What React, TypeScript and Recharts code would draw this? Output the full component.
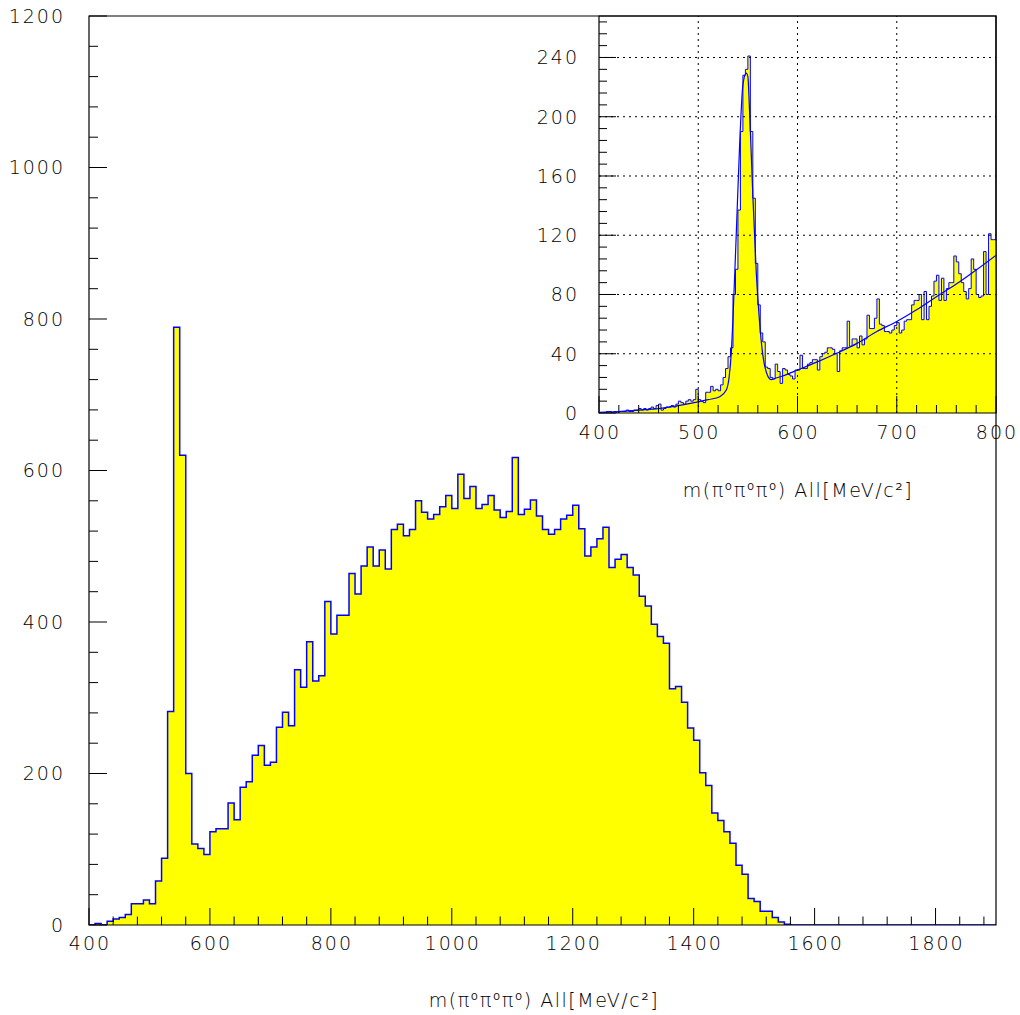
import React from 'react';
import { ComposedChart, Area, Line, XAxis, YAxis, ReferenceLine, ReferenceArea } from 'recharts';

// ---------- main histogram: m(pi0 pi0 pi0), 10 MeV bins from 400 to 1900 ----------
const MAIN_START = 400;
const MAIN_BIN = 10;
const mainCounts = [
  0, 2, 0, 5, 8, 10, 14, 28, 28, 33,
  28, 58, 88, 282, 789, 620, 200, 107, 101, 93,
  123, 127, 127, 161, 139, 182, 189, 224, 237, 211,
  215, 261, 281, 263, 337, 314, 374, 322, 329, 427,
  384, 409, 409, 464, 437, 474, 499, 474, 495, 470,
  522, 529, 514, 522, 560, 545, 536, 542, 552, 567,
  550, 595, 563, 579, 550, 555, 567, 548, 538, 546,
  617, 542, 549, 561, 540, 522, 516, 522, 536, 541,
  554, 523, 487, 499, 510, 525, 472, 483, 489, 472,
  462, 434, 421, 397, 381, 372, 312, 315, 294, 260,
  244, 201, 184, 148, 138, 123, 108, 79, 67, 35,
  31, 18, 18, 10, 4, 1, 0, 0, 0, 0,
  0, 0, 0, 0, 0, 0, 0, 0, 0, 0,
  0, 0, 0, 0, 0, 0, 0, 0, 0, 0,
  0, 0, 0, 0, 0, 0, 0, 0, 0, 0,
];

// ---------- inset histogram: 2.5 MeV bins from 400 to 800 ----------
const INSET_START = 400;
const INSET_BIN = 2.5;
const insetCounts = [
  0, 0, 0, 1, 1, 0, 1, 0,
  1, 1, 1, 2, 1, 1, 2, 2,
  3, 2, 3, 2, 3, 4, 3, 5,
  6, 2, 3, 4, 4, 5, 4, 6,
  8, 7, 6, 8, 9, 8, 9, 16,
  9, 8, 7, 14, 14, 18, 15, 16,
  15, 19, 24, 30, 38, 44, 80, 97,
  137, 190, 228, 232, 241, 190, 145, 101,
  73, 54, 48, 31, 30, 24, 23, 33,
  28, 20, 30, 29, 26, 25, 23, 29,
  29, 39, 30, 30, 33, 34, 36, 36,
  29, 38, 40, 41, 44, 44, 43, 40,
  28, 42, 44, 44, 62, 45, 50, 50,
  44, 52, 46, 50, 66, 57, 57, 64,
  77, 60, 59, 55, 55, 54, 56, 59,
  61, 54, 56, 62, 63, 63, 73, 76,
  76, 80, 63, 82, 63, 72, 79, 89,
  93, 76, 91, 76, 84, 88, 88, 106,
  102, 94, 88, 82, 77, 84, 104, 97,
  80, 78, 79, 109, 80, 121, 117, 117,
];

// fit curve (gaussian + background)
const fitMass = [400, 420, 440, 460, 480, 500, 510, 521.7, 528.4, 531, 533.4, 535, 538.4, 541.7, 545, 548.4, 550, 551.7, 555, 558.4, 561.7, 565, 568.4, 573.4, 578.4, 585, 600, 620, 640, 660, 680, 700, 720, 740, 760, 780, 800];
const fitCounts = [0.5, 1, 2, 3, 5, 7.5, 9, 11, 15.7, 23.6, 41.6, 64, 122.6, 181, 221.5, 229.4, 227, 203.5, 147, 95.6, 61.9, 39.4, 28, 22.5, 23.6, 25, 29, 34.5, 40.5, 47, 55, 61.8, 69.7, 78.5, 87, 96.5, 106.5];

// axes
const mainXDomain = [400, 1900];
const mainYDomain = [0, 1200];
const mainXMajor = [400, 600, 800, 1000, 1200, 1400, 1600, 1800];
const mainYMajor = [0, 200, 400, 600, 800, 1000, 1200];
const MAIN_X_MINOR = 40;
const MAIN_Y_MINOR = 40;

const insetXDomain = [400, 800];
const insetYDomain = [0, 268];
const insetXMajor = [400, 500, 600, 700, 800];
const insetYMajor = [0, 40, 80, 120, 160, 200, 240];
const INSET_X_MINOR = 20;
const INSET_Y_MINOR = 8;
const insetGridX = [500, 600, 700];
const insetGridY = [40, 80, 120, 160, 200, 240];

const TITLE = 'm(π⁰π⁰π⁰) All[MeV/c²]';

const stepTicks = (lo: number, hi: number, step: number) => {
  const out: number[] = [];
  for (let v = lo; v < hi + 1e-9; v += step) out.push(Math.round(v * 100) / 100);
  return out;
};

const histData = (start: number, bin: number, counts: number[]) => {
  const d = counts.map((c, i) => ({ m: start + i * bin, n: c }));
  d.push({ m: start + counts.length * bin, n: counts[counts.length - 1] });
  return d;
};

const mainData = histData(MAIN_START, MAIN_BIN, mainCounts);
const insetData = histData(INSET_START, INSET_BIN, insetCounts);
const fitData = fitMass.map((m, i) => ({ m, f: fitCounts[i] }));

const FONT = "'DejaVu Sans', Verdana, sans-serif";
const textStyle = { fontFamily: FONT, fontSize: 19, fontWeight: 200, letterSpacing: 2, fill: '#000' } as const;

const makeYTick = (majors: number[], majorLen: number, minorLen: number, gap: number) => (props: any) => {
  const { x, y, payload } = props;
  const v = payload.value;
  const major = majors.includes(v);
  return (
    <g>
      <line x1={x} x2={x + (major ? majorLen : minorLen)} y1={y} y2={y} stroke="#000" strokeWidth={1} />
      {major && (
        <text x={x - gap} y={y} dy="0.36em" textAnchor="end" style={textStyle}>
          {v}
        </text>
      )}
    </g>
  );
};

const makeXTick = (majors: number[], majorLen: number, minorLen: number, gap: number) => (props: any) => {
  const { x, y, payload } = props;
  const v = payload.value;
  const major = majors.includes(v);
  return (
    <g>
      <line x1={x} x2={x} y1={y} y2={y - (major ? majorLen : minorLen)} stroke="#000" strokeWidth={1} />
      {major && (
        <text x={x + 1} y={y + gap} dy="0.36em" textAnchor="middle" style={textStyle}>
          {v}
        </text>
      )}
    </g>
  );
};

const Title = ({ cx, cy }: { cx: number; cy: number }) => (
  <div
    style={{
      position: 'absolute',
      left: cx - 200,
      top: cy - 12,
      width: 400,
      textAlign: 'center',
      fontFamily: FONT,
      fontSize: 19,
      fontWeight: 200,
      letterSpacing: 1.5,
      lineHeight: '24px',
      color: '#000',
      whiteSpace: 'nowrap',
    }}
  >
    {TITLE}
  </div>
);

export default function App() {
  return (
    <div style={{ position: 'absolute', left: 0, top: 0, width: 1020, height: 1015, background: '#fff', overflow: 'hidden' }}>
      <div style={{ position: 'absolute', left: 0, top: 0 }}>
        <ComposedChart width={1020} height={1015} data={mainData} margin={{ top: 16, right: 24, left: 29, bottom: 60 }}>
          <XAxis
            dataKey="m"
            type="number"
            domain={mainXDomain}
            ticks={stepTicks(mainXDomain[0], mainXDomain[1] - 1, MAIN_X_MINOR)}
            interval={0}
            height={30}
            axisLine={false}
            tickLine={false}
            tickSize={0}
            tickMargin={0}
            allowDataOverflow
            tick={makeXTick(mainXMajor, 17, 8.5, 18)}
          />
          <YAxis
            type="number"
            domain={mainYDomain}
            ticks={stepTicks(mainYDomain[0], mainYDomain[1], MAIN_Y_MINOR)}
            interval={0}
            width={60}
            axisLine={false}
            tickLine={false}
            tickSize={0}
            tickMargin={0}
            allowDataOverflow
            tick={makeYTick(mainYMajor, 18, 9, 24)}
          />
          <Area
            dataKey="n"
            type="stepAfter"
            fill="#ffff00"
            fillOpacity={1}
            stroke="#0000ff"
            strokeWidth={1.5}
            isAnimationActive={false}
            dot={false}
            activeDot={false}
          />
          <ReferenceArea x1={mainXDomain[0]} x2={mainXDomain[1]} y1={mainYDomain[0]} y2={mainYDomain[1]} fill="none" fillOpacity={0} stroke="#000" strokeWidth={1.2} />
        </ComposedChart>
      </div>

      <div style={{ position: 'absolute', left: 520, top: 0 }}>
        <ComposedChart width={500} height={520} data={insetData} margin={{ top: 16, right: 24, left: 19, bottom: 77 }}>
          <XAxis
            dataKey="m"
            type="number"
            domain={insetXDomain}
            ticks={stepTicks(insetXDomain[0], insetXDomain[1], INSET_X_MINOR)}
            interval={0}
            height={30}
            axisLine={false}
            tickLine={false}
            tickSize={0}
            tickMargin={0}
            allowDataOverflow
            tick={makeXTick(insetXMajor, 17, 8, 19)}
          />
          <YAxis
            type="number"
            domain={insetYDomain}
            ticks={stepTicks(insetYDomain[0], insetYDomain[1] - 1, INSET_Y_MINOR)}
            interval={0}
            width={60}
            axisLine={false}
            tickLine={false}
            tickSize={0}
            tickMargin={0}
            allowDataOverflow
            tick={makeYTick(insetYMajor, 17, 8, 20)}
          />
          {insetGridY.map((v) => (
            <ReferenceLine key={'gy' + v} y={v} stroke="#000" strokeWidth={1} strokeDasharray="2 4" />
          ))}
          {insetGridX.map((v) => (
            <ReferenceLine key={'gx' + v} x={v} stroke="#000" strokeWidth={1} strokeDasharray="2 4" />
          ))}
          <Area
            dataKey="n"
            type="stepAfter"
            fill="#ffff00"
            fillOpacity={1}
            stroke="#0000ff"
            strokeWidth={1}
            isAnimationActive={false}
            dot={false}
            activeDot={false}
          />
          <Line
            data={fitData}
            dataKey="f"
            type="monotone"
            stroke="#0000ff"
            strokeWidth={1.2}
            dot={false}
            activeDot={false}
            isAnimationActive={false}
          />
          <ReferenceArea x1={insetXDomain[0]} x2={insetXDomain[1]} y1={insetYDomain[0]} y2={insetYDomain[1]} fill="none" fillOpacity={0} stroke="#000" strokeWidth={1.2} />
        </ComposedChart>
      </div>

      <Title cx={544} cy={1000} />
      <Title cx={798} cy={490} />
    </div>
  );
}
